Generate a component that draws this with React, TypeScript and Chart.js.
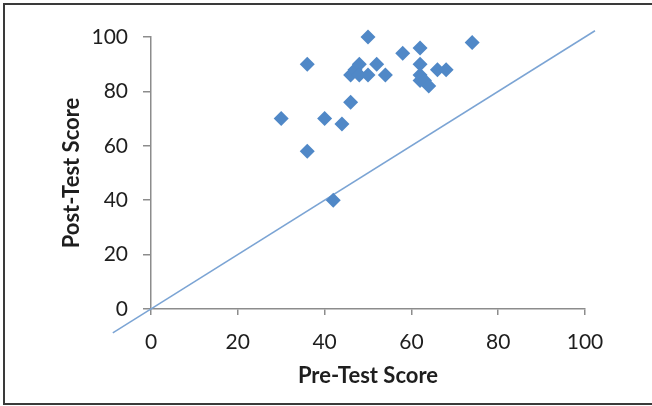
import React, { useEffect, useRef } from "react";
import { Chart, registerables } from "chart.js";

Chart.register(...registerables);

const preScores = [30, 36, 36, 40, 42, 44, 46, 46, 47, 48, 48, 50, 50, 52, 54, 58, 62, 62, 62, 62, 63, 64, 66, 68, 74];
const postScores = [70, 90, 58, 70, 40, 68, 76, 86, 88, 90, 86, 100, 86, 90, 86, 94, 96, 90, 86, 84, 84, 82, 88, 88, 98];
const lineX = [-8.8, 102.3];
const lineY = [-8.8, 102.3];
const tickValues = [0, 20, 40, 60, 80, 100];
const xTitle = "Pre-Test Score";
const yTitle = "Post-Test Score";

export default function App() {
  const ref = useRef<HTMLCanvasElement | null>(null);

  useEffect(() => {
    if (!ref.current) return;
    const textColor = "#1e1e1e";
    const axisColor = "#8c8c8c";
    const chart = new Chart(ref.current, {
      type: "scatter",
      data: {
        datasets: [
          {
            type: "line",
            data: lineX.map((x, i) => ({ x, y: lineY[i] })),
            borderColor: "#7ba4d4",
            borderWidth: 1.5,
            pointRadius: 0,
            clip: false as any,
            order: 2,
          } as any,
          {
            data: preScores.map((x, i) => ({ x, y: postScores[i] })),
            backgroundColor: "#5088c7",
            borderColor: "#5088c7",
            pointStyle: "rectRot",
            pointRadius: 7.5,
            borderWidth: 0,
            clip: false as any,
            order: 1,
          } as any,
        ],
      },
      options: {
        animation: false,
        responsive: false,
        devicePixelRatio: 1,
        layout: { padding: { left: 0, right: 67, top: 37, bottom: 0 } },
        plugins: { legend: { display: false }, tooltip: { enabled: false } },
        scales: {
          x: {
            type: "linear",
            min: 0,
            max: 100,
            afterBuildTicks: (s: any) => {
              s.ticks = tickValues.map((v) => ({ value: v }));
            },
            afterFit: (s: any) => {
              s.height = 97;
            },
            grid: {
              drawOnChartArea: false,
              drawTicks: true,
              tickLength: 6,
              color: axisColor,
              lineWidth: 1.5,
            },
            border: { display: true, color: axisColor, width: 1.5 },
            ticks: {
              color: textColor,
              font: { family: "Lato", size: 21 },
              padding: 15,
              maxRotation: 0,
            },
            title: {
              display: true,
              text: xTitle,
              color: textColor,
              font: { family: "Lato", size: 22, weight: "bold" },
              padding: { top: 0, bottom: 17 },
            },
          },
          y: {
            type: "linear",
            min: 0,
            max: 100,
            afterBuildTicks: (s: any) => {
              s.ticks = tickValues.map((v) => ({ value: v }));
            },
            afterFit: (s: any) => {
              s.width = 151;
            },
            grid: {
              drawOnChartArea: false,
              drawTicks: true,
              tickLength: 8,
              color: axisColor,
              lineWidth: 1.5,
            },
            border: { display: true, color: axisColor, width: 1.5 },
            ticks: {
              color: textColor,
              font: { family: "Lato", size: 21 },
              padding: 15,
            },
            title: {
              display: true,
              text: yTitle,
              color: textColor,
              font: { family: "Lato", size: 22, weight: "bold" },
              padding: { top: 59, bottom: 0 },
            },
          },
        },
      },
    });
    return () => chart.destroy();
  }, []);

  return (
    <div style={{ position: "fixed", left: 0, top: 0, width: 652, height: 406, background: "#fff" }}>
      <canvas ref={ref} width={652} height={406} style={{ position: "absolute", left: 0, top: 0 }} />
      <div
        style={{
          position: "absolute",
          left: 3,
          top: 3,
          width: 660,
          height: 402,
          border: "2px solid #3a3a3a",
          boxSizing: "border-box",
          pointerEvents: "none",
        }}
      />
    </div>
  );
}
